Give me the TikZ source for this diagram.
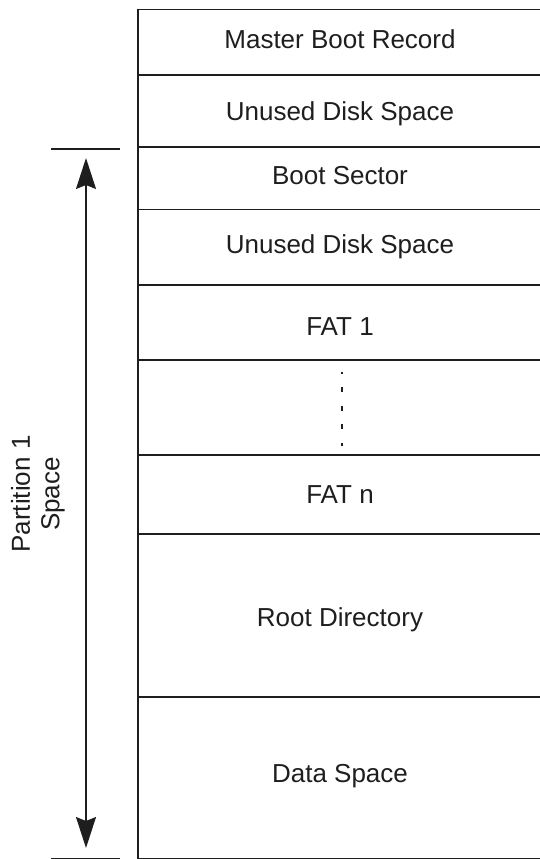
\documentclass[tikz,border=0pt]{standalone}
\usepackage{fontspec}
\setmainfont{Liberation Sans}
\usetikzlibrary{arrows.meta}
\definecolor{ink}{RGB}{30,30,30}
\begin{document}
\begin{tikzpicture}[x=1pt,y=-1pt,
  rule/.style={draw=ink,line width=1.4pt},
  label/.style={font=\fontsize{26}{29.5}\selectfont,text=ink,anchor=base,inner sep=0pt},
  span/.style={draw=ink,line width=1.4pt,
    {Stealth[length=31pt,width=20pt,inset=4pt]}-{Stealth[length=31pt,width=20pt,inset=4pt]}}]
\useasboundingbox (0,0) rectangle (540,859);

% left edge of the layout column
\draw[rule] (138,9) -- (138,859);
% region boundaries
\foreach \y in {9.3,75,147,209.3,285,360,455,534,697,858.3}
  \draw[rule] (138,\y) -- (541,\y);

% region labels
\node[label] (mbr)  at (340,48.3)  {Master Boot Record};
\node[label] (uds1) at (340,120)   {Unused Disk Space};
\node[label] (bs)   at (340,184.3) {Boot Sector};
\node[label] (uds2) at (340,253.3) {Unused Disk Space};
\node[label] (fat1) at (340,335)   {FAT 1};
\node[label] (fatn) at (340,503)   {FAT n};
\node[label] (root) at (340,626.7) {Root Directory};
\node[label] (data) at (340,782.7) {Data Space};

% elided FAT copies
\coordinate (gapTop) at (342,372);
\coordinate (gapBot) at (342,446);
\draw[draw=ink,line width=1.2pt,dash pattern=on 5pt off 13.5pt,dash phase=3.5pt]
  (gapTop) -- (gapBot);

% partition extent
\coordinate (tickTopL) at (51,149);
\coordinate (tickTopR) at (120,149);
\coordinate (tickBotL) at (51,858.3);
\coordinate (tickBotR) at (120,858.3);
\draw[rule] (tickTopL) -- (tickTopR);
\draw[rule] (tickBotL) -- (tickBotR);
\coordinate (spanTop) at (86,158);
\coordinate (spanBot) at (86,848);
\draw[span] (spanTop) -- (spanBot);

\node[font=\fontsize{26}{29.5}\selectfont,text=ink,rotate=90,align=center,inner sep=0pt]
  (part) at (38,494) {Partition 1\\Space};
\end{tikzpicture}
\end{document}
